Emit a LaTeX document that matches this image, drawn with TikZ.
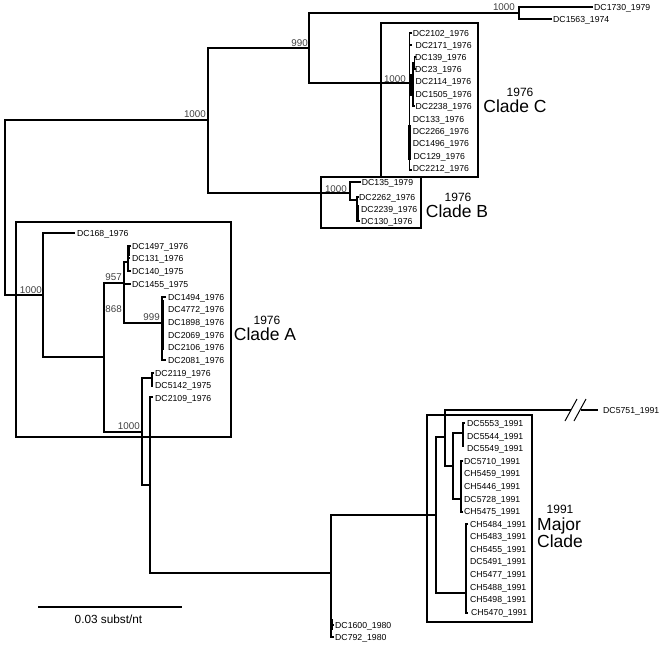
\documentclass[tikz,border=0pt]{standalone}
\usepackage{fontspec}
\setmainfont{Liberation Sans}
\begin{document}
\begin{tikzpicture}[x=1pt,y=-1pt,
  br/.style={line width=1.4pt,line join=miter},
  thk/.style={line width=2.4pt},
  boxline/.style={line width=2.2pt},
  leaf/.style={anchor=west,inner sep=0pt,text height=6.2pt,text depth=0pt,font=\fontsize{8.7}{10}\selectfont},
  boot/.style={anchor=east,inner sep=0pt,text height=7.1pt,text depth=0pt,text=black!75,font=\fontsize{9.8}{11}\selectfont},
  year/.style={inner sep=0pt,text height=8.6pt,text depth=0pt,font=\fontsize{12}{14}\selectfont},
  clade/.style={inner sep=0pt,font=\fontsize{17.5}{19}\selectfont}]
\useasboundingbox (0,0) rectangle (661,646);

% ---------------- upper part of tree ----------------
\draw[br] (208,120) -- (5,120) -- (5,295) -- (43,295);
\draw[br] (309,48) -- (208,48) -- (208,193) -- (350,193);
\draw[br] (519,13) -- (309,13) -- (309,83) -- (409.5,83);
\draw[br] (593,7) -- (519,7) -- (519,19) -- (552,19);
\node[leaf] (l1730) at (594,7) {DC1730\_1979};
\node[leaf] (l1563) at (553,19) {DC1563\_1974};

% Clade C
\draw[br] (412,33) -- (409.5,33) -- (409.5,170) -- (412,170);
\draw[br] (409.5,45) -- (412,45);
\draw[br] (409.5,83) -- (413,83);
\draw[br] (414.5,63) -- (413,63) -- (413,106) -- (415,106);
\draw[br] (415.5,57) -- (414.5,57) -- (414.5,69) -- (415.5,69);
\draw[thk] (411.2,74) -- (411.2,96);
\draw[thk] (409.5,125) -- (409.5,160);
\node[leaf] (c1) at (412.7,33) {DC2102\_1976};
\node[leaf] (c2) at (415.3,45) {DC2171\_1976};
\node[leaf] (c3) at (415,57) {DC139\_1976};
\node[leaf] (c4) at (415,69) {DC23\_1976};
\node[leaf] (c5) at (415.5,81) {DC2114\_1976};
\node[leaf] (c6) at (415.5,94) {DC1505\_1976};
\node[leaf] (c7) at (415.5,106) {DC2238\_1976};
\node[leaf] (c8) at (412.7,119) {DC133\_1976};
\node[leaf] (c9) at (412.7,131) {DC2266\_1976};
\node[leaf] (c10) at (412.7,143) {DC1496\_1976};
\node[leaf] (c11) at (413.5,156) {DC129\_1976};
\node[leaf] (c12) at (412.7,168) {DC2212\_1976};

% Clade B
\draw[br] (361,182) -- (350,182) -- (350,200) -- (357,200);
\draw[br] (359,197) -- (357,197) -- (357,221) -- (360,221);
\draw[line width=2pt] (358.3,205) -- (358.3,220);
\node[leaf] (b1) at (361.7,182) {DC135\_1979};
\node[leaf] (b2) at (359,197) {DC2262\_1976};
\node[leaf] (b3) at (361,209) {DC2239\_1976};
\node[leaf] (b4) at (361,221) {DC130\_1976};

% ---------------- lower part of tree ----------------
\draw[br] (75,233) -- (43,233) -- (43,357) -- (104,357);
\draw[br] (124,283) -- (104,283) -- (104,432) -- (142,432);
\draw[br] (128,262) -- (124,262) -- (124,323) -- (162,323);
\draw[br] (124,284) -- (131,284);
\draw[thk] (124,283) -- (124,303);
\draw[br] (131,246) -- (128,246) -- (128,271) -- (131,271);
\draw[line width=2pt] (129,246) -- (129,256);
\draw[br] (128,258) -- (130,258);
\draw[br] (166,297) -- (162,297) -- (162,360) -- (166,360);
\draw[line width=1.6pt] (163.5,300) -- (163.5,350);
\node[leaf] (a1) at (77,233) {DC168\_1976};
\node[leaf] (a2) at (132,246) {DC1497\_1976};
\node[leaf] (a3) at (132,258) {DC131\_1976};
\node[leaf] (a4) at (132,271) {DC140\_1975};
\node[leaf] (a5) at (132,284) {DC1455\_1975};
\node[leaf] (a6) at (168,297) {DC1494\_1976};
\node[leaf] (a7) at (168,309) {DC4772\_1976};
\node[leaf] (a8) at (168,322) {DC1898\_1976};
\node[leaf] (a9) at (168,335) {DC2069\_1976};
\node[leaf] (a10) at (168,347) {DC2106\_1976};
\node[leaf] (a11) at (168,360) {DC2081\_1976};

\draw[br] (152,378) -- (142,378) -- (142,485) -- (150,485);
\draw[br] (154,373) -- (152,373) -- (152,387);
\draw[br] (153,397) -- (150,397) -- (150,573) -- (331,573);
\node[leaf] (a12) at (155,373) {DC2119\_1976};
\node[leaf] (a13) at (155,385) {DC5142\_1975};
\node[leaf] (a14) at (155,398) {DC2109\_1976};

\draw[br] (436,515) -- (331,515) -- (331,637) -- (334,637);
\draw[br] (331,625) -- (334,625);
\draw[line width=2pt] (332,619) -- (332,630);
\node[leaf] (d1) at (335,625) {DC1600\_1980};
\node[leaf] (d2) at (335,637) {DC792\_1980};

% Major clade
\draw[br] (445,437) -- (436,437) -- (436,593) -- (466,593);
\draw[br] (571,410) -- (445,410) -- (445,466) -- (453,466);
\draw[br] (581,410) -- (598,410);
\draw[line width=1pt] (565,421) -- (577,399);
\draw[line width=1pt] (574,421) -- (586,399);
\node[leaf] (m0) at (603,410) {DC5751\_1991};
\draw[br] (463,433) -- (453,433) -- (453,499) -- (461,499);
\draw[br] (465,423) -- (463,423) -- (463,447);
\draw[br] (463,461) -- (461,461) -- (461,512) -- (463,512);
\draw[br] (468,524) -- (466,524) -- (466,613) -- (468,613);
\node[leaf] (m1) at (467,423) {DC5553\_1991};
\node[leaf] (m2) at (467,436) {DC5544\_1991};
\node[leaf] (m3) at (467,448) {DC5549\_1991};
\node[leaf] (m4) at (464,461) {DC5710\_1991};
\node[leaf] (m5) at (464,473) {CH5459\_1991};
\node[leaf] (m6) at (464,486) {CH5446\_1991};
\node[leaf] (m7) at (464,499) {DC5728\_1991};
\node[leaf] (m8) at (464,511) {CH5475\_1991};
\node[leaf] (m9) at (470,524) {CH5484\_1991};
\node[leaf] (m10) at (470,536) {CH5483\_1991};
\node[leaf] (m11) at (470,549) {CH5455\_1991};
\node[leaf] (m12) at (470,561) {DC5491\_1991};
\node[leaf] (m13) at (470,574) {CH5477\_1991};
\node[leaf] (m14) at (470,587) {CH5488\_1991};
\node[leaf] (m15) at (470,599) {CH5498\_1991};
\node[leaf] (m16) at (471,612) {CH5470\_1991};

% ---------------- bootstrap values ----------------
\node[boot] (s1) at (206,114) {1000};
\node[boot] (s2) at (308,43) {990};
\node[boot] (s3) at (515,7) {1000};
\node[boot] (s4) at (406,79) {1000};
\node[boot] (s5) at (347,189) {1000};
\node[boot] (s6) at (42,290) {1000};
\node[boot] (s7) at (122,277) {957};
\node[boot] (s8) at (122,309) {868};
\node[boot] (s9) at (160,317) {999};
\node[boot] (s10) at (140,426) {1000};

% ---------------- clade boxes ----------------
\draw[boxline] (16,222) rectangle (231,437);
\draw[boxline] (321,177) rectangle (421,228);
\draw[boxline] (381,23) rectangle (478,177);
\draw[boxline] (427,415) rectangle (532,622);

\node[year] (ya) at (267,320) {1976};
\node[clade] (na) at (265,334) {Clade A};
\node[year] (yb) at (458,197) {1976};
\node[clade] (nb) at (457,211) {Clade B};
\node[year] (yc) at (520,92) {1976};
\node[clade] (nc) at (515,106) {Clade C};
\node[year] (ym) at (560,509) {1991};
\node[clade,anchor=west,text height=12.6pt,text depth=0pt] (nm1) at (537,524) {Major};
\node[clade,anchor=west] (nm2) at (537,541) {Clade};

% ---------------- scale bar ----------------
\coordinate (sb1) at (38,607);
\coordinate (sb2) at (182,607);
\draw[line width=1.3pt] (sb1) -- (sb2);
\node[year,font=\fontsize{11.8}{14}\selectfont] (sbt) at (108.5,619) {0.03 subst/nt};
\end{tikzpicture}
\end{document}
